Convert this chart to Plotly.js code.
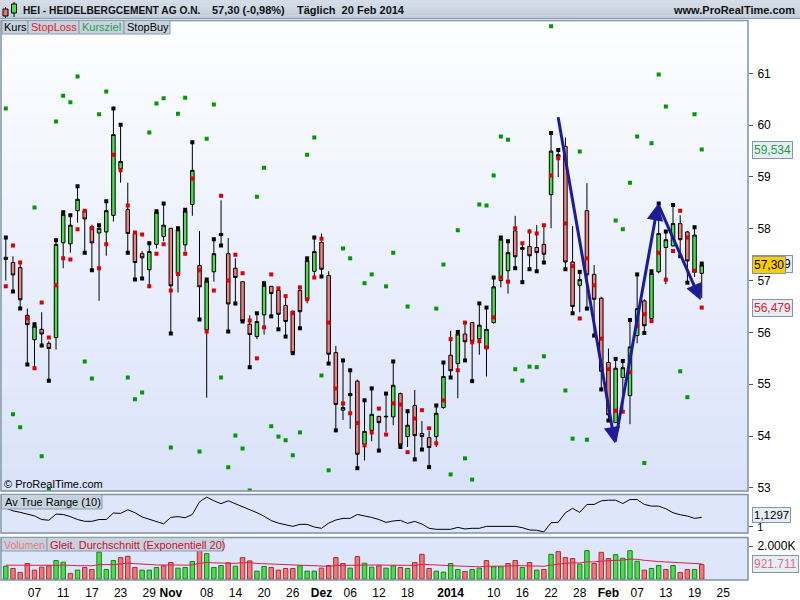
<!DOCTYPE html>
<html><head><meta charset="utf-8">
<script src="https://cdn.plot.ly/plotly-3.0.1.min.js"></script>
<style>body{margin:0;background:#fff}#chart{width:800px;height:600px}</style>
</head><body><div id="chart"></div>
<script>
// ---- data (trading day index 0 = 1 Oct 2013 ... 97 = 20 Feb 2014) ----
const openP=[57.41,57.35,57.25,56.33,55.86,56.06,55.79,55.90,57.73,57.71,
58.35,58.35,58.04,57.92,57.94,58.26,59.16,58.37,57.91,57.52,
57.21,57.70,57.85,58.01,57.13,57.69,58.47,57.29,56.05,57.17,
57.91,57.52,57.24,56.98,56.16,55.92,56.34,56.89,56.81,56.52,
56.41,56.81,56.64,57.18,57.74,57.10,55.61,54.50,54.78,55.06,
53.84,54.11,54.38,54.37,54.37,54.82,53.99,54.59,54.05,53.97,
53.99,54.55,55.56,55.40,55.97,56.19,55.88,55.69,56.19,57.00,
57.19,57.96,57.64,57.66,57.64,57.70,58.66,59.38,59.59,57.36,
56.91,58.35,57.12,56.66,55.42,54.26,55.13,54.78,55.94,56.61,
56.27,57.17,57.64,57.67,58.10,57.94,57.16,57.14];
const highP=[57.83,57.47,57.38,56.46,56.16,56.39,55.83,57.78,58.32,58.26,
58.82,58.36,58.08,58.07,58.53,60.32,60.01,58.89,57.94,57.57,
57.72,58.34,58.49,58.01,58.01,58.37,59.67,57.96,57.02,57.80,
58.55,57.82,57.43,56.99,56.33,56.37,56.95,56.89,56.85,56.67,
56.42,56.86,57.43,57.83,57.91,57.18,55.74,55.46,55.27,55.09,
54.69,54.92,54.39,54.82,55.44,54.84,54.48,54.89,54.29,54.10,
54.59,55.42,56.03,56.01,56.19,56.19,56.56,56.48,57.06,57.83,
57.76,58.25,57.69,57.99,58.07,58.09,59.85,59.52,59.76,58.05,
57.17,58.88,57.30,56.69,55.69,55.49,55.45,56.24,57.12,56.64,
57.18,58.49,57.95,58.46,58.26,57.96,58.03,57.33];
const lowP=[57.00,56.79,56.46,55.38,55.31,55.75,55.07,55.67,57.24,57.54,
58.12,57.54,57.20,56.61,57.48,58.14,58.89,57.54,57.02,57.04,
56.89,57.62,57.76,55.98,56.77,57.56,58.25,56.25,54.74,56.98,
57.68,56.02,56.56,56.21,55.33,55.87,55.96,56.31,56.06,55.92,
55.60,56.08,56.56,57.08,57.08,55.40,54.11,54.31,54.14,53.38,
53.53,53.90,53.72,54.08,54.21,53.79,53.79,53.55,53.74,53.40,
53.79,54.53,55.13,54.73,55.46,55.06,55.57,55.15,56.17,56.87,
56.75,57.24,56.97,57.22,57.18,57.35,58.01,59.00,57.22,56.37,
56.39,56.46,55.94,54.90,54.30,54.25,54.47,54.23,55.79,55.99,
56.23,57.14,56.93,57.66,57.47,56.96,57.07,56.66];
const closeP=[57.45,57.11,56.63,56.15,56.12,55.97,55.69,57.70,58.28,58.07,
58.57,58.19,57.73,58.01,58.35,59.82,59.30,57.91,57.35,57.44,
57.56,58.32,58.07,56.90,57.98,58.34,59.13,56.88,56.99,57.52,
57.87,56.55,57.06,56.22,55.96,56.21,56.91,56.75,56.35,56.21,
55.61,56.40,57.39,57.56,57.22,55.58,54.61,54.55,54.82,53.65,
54.09,54.42,54.26,54.38,54.98,53.83,54.21,54.01,53.99,53.78,
54.44,55.15,55.26,55.97,55.82,55.83,56.14,56.06,56.88,57.80,
57.54,57.46,57.60,57.48,57.54,57.51,59.50,59.43,57.36,56.50,
57.02,57.11,56.64,55.25,54.41,55.31,55.32,55.72,56.46,56.13,
57.14,57.91,57.79,58.10,57.79,57.38,57.88,57.30];
const stopBuy=[57.83,56.79,56.46,55.38,56.16,55.75,55.07,57.78,58.32,58.26,
58.82,57.54,57.20,58.07,58.53,60.32,60.01,57.54,57.02,57.04,
57.72,58.34,58.49,55.98,58.01,58.37,59.67,56.25,57.02,57.80,
57.68,56.02,56.56,56.21,55.33,56.37,56.95,56.31,56.06,55.92,
55.60,56.08,57.43,57.83,57.08,55.40,54.11,55.46,55.27,53.38,
54.69,54.92,53.72,54.82,55.44,53.79,54.48,53.55,53.74,53.40,
54.59,55.42,55.13,56.01,55.46,55.06,56.56,56.48,57.06,57.83,
57.76,57.24,56.97,57.22,57.18,57.35,59.85,59.52,57.22,56.37,
57.17,56.46,55.94,54.90,54.30,55.49,55.45,56.24,57.12,55.99,
57.18,58.49,57.95,58.46,57.47,56.96,58.03,57.33];
const stopLoss=[56.89,57.68,57.35,56.27,55.31,56.58,55.90,56.91,57.43,57.41,
57.99,58.35,58.01,57.24,57.70,59.43,59.13,58.45,57.93,57.89,
56.89,57.52,57.70,56.81,57.13,57.52,58.97,57.20,56.02,56.81,
58.64,57.00,57.50,57.14,56.23,55.50,56.10,57.12,56.85,56.70,
56.37,56.87,56.64,57.06,57.81,56.19,54.92,54.63,54.44,54.25,
53.82,54.07,54.53,54.03,54.63,54.61,53.69,54.34,54.50,54.15,
53.86,54.69,55.87,55.27,56.19,55.81,55.83,55.71,56.29,57.06,
56.98,58.01,57.72,57.95,57.91,58.07,59.03,59.36,58.10,57.28,
56.27,57.43,56.91,55.88,55.29,54.49,54.47,55.23,56.12,56.35,
56.22,57.54,57.02,57.57,58.35,57.83,57.19,56.48];
const kursziel=[60.32,54.42,54.17,null,58.41,53.61,52.97,60.07,60.57,60.44,
60.94,55.44,55.11,60.21,60.65,null,null,55.13,54.71,54.84,
59.86,60.42,60.52,53.78,60.22,60.53,null,53.70,59.74,60.40,
55.13,53.40,54.01,53.76,52.95,58.62,59.18,54.19,53.99,53.92,
53.63,54.07,59.43,59.76,55.17,53.34,null,57.62,57.43,null,
56.95,57.12,null,56.89,57.54,null,56.50,null,null,null,
56.46,57.31,53.26,57.97,53.57,53.16,58.47,58.45,59.03,59.78,
59.72,55.29,55.07,55.34,55.33,55.54,61.91,null,54.88,53.95,
59.49,53.93,null,null,null,58.16,57.99,58.89,59.78,53.48,
59.65,60.98,60.36,null,55.25,54.75,60.21,59.53];
const atr10=[1.26,1.22,1.20,1.18,1.15,1.10,1.09,1.175,1.17,1.14,
1.10,1.075,1.075,1.10,1.10,1.19,1.185,1.235,1.195,1.135,
1.105,1.08,1.04,1.13,1.14,1.125,1.17,1.345,1.41,1.36,
1.32,1.36,1.32,1.27,1.24,1.195,1.145,1.085,1.05,1.03,
1.005,1.033,1.033,0.996,0.978,1.05,1.093,1.116,1.116,1.17,
1.153,1.129,1.10,1.06,1.08,1.088,1.047,1.074,1.038,0.978,
0.964,0.964,0.964,0.991,0.969,0.978,0.978,1.005,1.005,1.005,
1.005,1.005,0.987,0.955,0.951,0.928,1.055,1.061,1.194,1.254,
1.199,1.309,1.309,1.359,1.368,1.368,1.322,1.377,1.377,1.309,
1.286,1.286,1.249,1.194,1.166,1.148,1.116,1.1297];
const volumeK=[785,645,405,945,545,725,805,1124,1024,345,
545,705,585,1643,585,1124,1304,1384,705,545,
545,705,805,1005,665,705,1065,1843,1544,705,
825,984,785,1304,1104,485,765,705,545,645,
645,805,485,485,665,825,1304,945,665,1364,
964,725,805,665,805,705,645,1005,1504,645,
485,425,945,585,465,585,665,1124,745,745,
945,1124,705,1005,545,585,1504,1663,1304,1244,
905,1723,945,1623,1244,1484,1264,1723,1084,545,
645,825,585,825,405,585,585,885];
const volEma20=[845,840,820,830,820,815,815,835,850,820,
815,815,810,880,860,880,920,960,935,900,
870,860,855,870,855,845,865,960,1015,985,
970,975,955,990,1000,950,930,910,875,855,
835,830,800,780,770,775,825,835,820,870,
880,865,860,845,840,830,815,830,895,870,
835,800,815,795,765,750,745,780,775,770,
790,820,810,830,800,780,850,925,960,985,
980,1050,1040,1095,1110,1145,1155,1210,1200,1140,
1090,1065,1040,1020,975,950,925,921.711];
const tickIdx=[4,8,12,16,20,23,28,32,36,40,44,48,52,56,62,68,72,76,80,84,88,92,96,100];
const tickLabels=['07','11','17','23','29','<b>Nov</b>','08','14','20','26','<b>Dez</b>','06','12','18','<b>2014</b>','10','16','22','28','<b>Feb</b>','07','13','19','25'];
const priceTicks=[53,54,55,56,57,58,59,60,61];
// hand-drawn trend arrows: bar index / price of the vertices
const arrowIdx=[76.95,84.9,90.9,96.85];
const arrowPrice=[60.18,53.86,58.48,56.62];

// ---- drawing ----
(function(){
const F='Liberation Sans, Arial, sans-serif';
const W=800,H=600;
const px=v=>v/W, py=v=>1-v/H;
const idx=closeP.map((_,i)=>i);
const GREEN='#4cdc4c', RED='#f08080';

const volColors=closeP.map((c,i)=> (i===0||c>=closeP[i-1]) ? GREEN : '#f07878');
const volLine=closeP.map((c,i)=> (i===0||c>=closeP[i-1]) ? '#1e7d1e' : '#a83030');

const traces=[
 {type:'candlestick',x:idx,open:openP,high:highP,low:lowP,close:closeP,xaxis:'x',yaxis:'y',
  increasing:{line:{color:'#000',width:1},fillcolor:GREEN},
  decreasing:{line:{color:'#000',width:1},fillcolor:RED},
  whiskerwidth:0,hoverinfo:'skip',showlegend:false},
 {type:'scatter',mode:'markers',x:idx,y:stopBuy,yaxis:'y',marker:{symbol:'square',size:4,color:'#000'},hoverinfo:'skip',showlegend:false},
 {type:'scatter',mode:'markers',x:idx,y:stopLoss,yaxis:'y',marker:{symbol:'square',size:4,color:'#dd0000'},hoverinfo:'skip',showlegend:false},
 {type:'scatter',mode:'markers',x:idx,y:kursziel,yaxis:'y',marker:{symbol:'square',size:4,color:'#009a00'},hoverinfo:'skip',showlegend:false},
 {type:'scatter',mode:'lines',x:idx,y:atr10,yaxis:'y2',line:{color:'#000',width:1},hoverinfo:'skip',showlegend:false},
 {type:'bar',x:idx,y:volumeK,yaxis:'y3',width:0.62,marker:{color:volColors,line:{color:volLine,width:1}},hoverinfo:'skip',showlegend:false},
 {type:'scatter',mode:'lines',x:idx,y:volEma20,yaxis:'y3',line:{color:'#dc1e46',width:1},hoverinfo:'skip',showlegend:false}
];

const shapes=[];
function rect(x0,y0,x1,y1,fill,line,lw,layer){
  shapes.push({type:'rect',xref:'paper',yref:'paper',x0:px(x0),x1:px(x1),y0:py(y1),y1:py(y0),
    fillcolor:fill,line:{color:line||'rgba(0,0,0,0)',width:lw===undefined?1:lw},layer:layer||'below'});
}
function lineS(x0,y0,x1,y1,color,w){
  shapes.push({type:'line',xref:'paper',yref:'paper',x0:px(x0),x1:px(x1),y0:py(y0),y1:py(y1),line:{color:color,width:w||1},layer:'above'});
}
const hTop=[214,223,232], hBot=[190,203,216];
for(let i=0;i<6;i++){
  const t=(i+0.5)/6;
  const c=hTop.map((v,k)=>Math.round(v+(hBot[k]-v)*t));
  rect(0,18.5*i/6,800,18.5*(i+1)/6+0.4,'rgb('+c.join(',')+')',null,0);
}
lineS(0,18.5,800,18.5,'#8a9bad',1);
const gTop=[253,254,255], gBot=[217,226,249];
const N=40, y0p=20.5, y1p=491;
for(let i=0;i<N;i++){
  const t=(i+0.5)/N;
  const c=gTop.map((v,k)=>Math.round(v+(gBot[k]-v)*t));
  rect(1.5,y0p+(y1p-y0p)*i/N,748,y0p+(y1p-y0p)*(i+1)/N+0.6,'rgb('+c.join(',')+')',null,0);
}
rect(1.5,494.5,748,533,'#dde6fa',null,0);
rect(1.5,537.5,748,580,'#dde6fa',null,0);
const FR='#7f93a6';
[[1,20.5,748,491],[1,494.5,748,533],[1,537.5,748,580]].forEach(r=>{
  shapes.push({type:'rect',xref:'paper',yref:'paper',x0:px(r[0]),x1:px(r[2]),y0:py(r[3]),y1:py(r[1]),
   fillcolor:'rgba(0,0,0,0)',line:{color:FR,width:1.5},layer:'above'});
});
const LB='#c6d3df', LL='#8a9cad';
rect(2,20.5,28,34,LB,LL,1,'above');
rect(28,20.5,79,34,LB,LL,1,'above');
rect(79,20.5,124,34,LB,LL,1,'above');
rect(124,20.5,170,34,LB,LL,1,'above');
rect(1.5,494.5,102,509,LB,LL,1,'above');
rect(1.5,537.5,47,551,LB,LL,1,'above');
rect(47,537.5,223,551,LB,LL,1,'above');
lineS(5.5,7,5.5,18,'#000',1); rect(3,9,8,16,'#f07070','#000',1,'above');
lineS(14,2,14,17,'#000',1); rect(11.5,4,16.5,13,'#4cdc4c','#000',1,'above');

const ann=[];
function txt(x,y,s,color,size,anchor,bold){
  ann.push({xref:'paper',yref:'paper',x:px(x),y:py(y),text:bold?'<b>'+s+'</b>':s,showarrow:false,
   xanchor:anchor||'left',yanchor:'middle',borderpad:0,font:{family:F,size:size||12,color:color||'#000'}});
}
txt(22,10,'HEI - HEIDELBERGCEMENT AG O.N.','#111',10.2,'left',true);
txt(211,10,'57,30 (-0,98%)','#111',11,'left',true);
txt(296,10,'Täglich  20 Feb 2014','#111',11,'left',true);
txt(796,10,'www.ProRealTime.com','#111',11,'right',true);
txt(3,27.5,'Kurs','#000',11);
txt(29.5,27.5,'StopLoss','#e0202a',11);
txt(80.5,27.5,'Kursziel','#22a045',11);
txt(125.5,27.5,'StopBuy','#000',11);
txt(3.5,501.5,'Av True Range (10)','#000',11);
txt(2.5,544.5,'Volumen','#e87878',10.5);
txt(48.5,544.5,'Gleit. Durchschnitt (Exponentiell 20)','#c8102e',11);
txt(3,484,'© ProRealTime.com','#000',11);

function valBox(yref,yv,s,color,bg,size){
  ann.push({xref:'paper',yref:yref,x:px(752),y:yv,text:s,showarrow:false,xanchor:'left',yanchor:'middle',
    font:{family:F,size:size||12,color:color},bgcolor:bg||'#e6edf5',bordercolor:'#8596a8',borderwidth:1,borderpad:1});
}
valBox('y',kursziel[97],'59,534','#22a045');
valBox('y',stopBuy[97],'57,329','#000');
valBox('y',closeP[97],'57,30','#000','#ffcc00');
valBox('y',stopLoss[97],'56,479','#e0202a');
valBox('y2',atr10[97]+0.035,'1,1297','#000',null,11.5);
valBox('y3',volEma20[97],'921.711','#e07080');

for(let i=0;i<arrowIdx.length-1;i++){
  ann.push({xref:'x',yref:'y',axref:'x',ayref:'y',x:arrowIdx[i+1],y:arrowPrice[i+1],ax:arrowIdx[i],ay:arrowPrice[i],
   text:'',showarrow:true,arrowhead:2,arrowsize:1.1,arrowwidth:3,arrowcolor:'#1c1c96',standoff:0,startstandoff:0});
}

const layout={
  width:W,height:H,margin:{l:0,r:0,t:0,b:0,pad:0},paper_bgcolor:'#fff',plot_bgcolor:'rgba(0,0,0,0)',
  showlegend:false,font:{family:F,size:12,color:'#000'},
  xaxis:{domain:[px(1.5),px(748)],range:[-0.6,103.45],anchor:'y3',tickmode:'array',tickvals:tickIdx,ticktext:tickLabels,
    showgrid:false,zeroline:false,showline:false,ticks:'',ticklabelstandoff:4,tickfont:{family:F,size:12,color:'#000'},
    rangeslider:{visible:false},fixedrange:true},
  yaxis:{domain:[py(491),py(20.5)],range:[52.94,62.02],side:'right',anchor:'x',tickmode:'array',tickvals:priceTicks,
    ticks:'outside',ticklen:4,tickcolor:'#555',showgrid:false,zeroline:false,showline:false,
    tickfont:{family:F,size:12,color:'#000'},ticklabelstandoff:2},
  yaxis2:{domain:[py(533),py(494.5)],range:[0.913,1.447],side:'right',anchor:'x',tickmode:'array',tickvals:[1],ticktext:['1'],
    ticks:'outside',ticklen:4,tickcolor:'#555',showgrid:false,zeroline:false,showline:false,tickfont:{family:F,size:11,color:'#000'},ticklabelstandoff:2},
  yaxis3:{domain:[py(580),py(537.5)],range:[-54,2522],side:'right',anchor:'x',tickmode:'array',tickvals:[2000],ticktext:['2.000K'],
    ticks:'outside',ticklen:4,tickcolor:'#555',showgrid:false,zeroline:false,showline:false,tickfont:{family:F,size:12,color:'#000'},ticklabelstandoff:2},
  shapes:shapes,annotations:ann,bargap:0
};
Plotly.newPlot('chart',traces,layout,{staticPlot:true});
})();
</script></body></html>
